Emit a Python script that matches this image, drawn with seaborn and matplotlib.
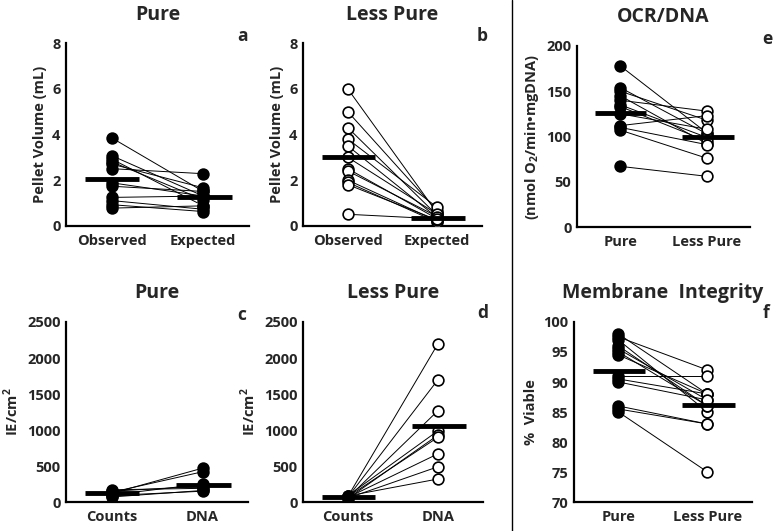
import numpy as np
import pandas as pd
import matplotlib
matplotlib.use("Agg")
import matplotlib.pyplot as plt
import seaborn as sns
from matplotlib.lines import Line2D

# Panel a - Pure pellet volume
a_cats = ["Observed", "Expected"]
a_left = [3.85, 3.07, 2.92, 2.8, 2.7, 2.5, 1.88, 1.73, 1.24, 1.1, 0.92, 0.77]
a_right = [1.5, 1.3, 0.87, 1.14, 1.66, 2.28, 1.3, 1.5, 1.3, 0.72, 0.62, 0.87]
a_mean = [2.03, 1.24]

# Panel b - Less pure pellet volume
b_cats = ["Observed", "Expected"]
b_left = [6.0, 5.0, 4.3, 3.8, 3.5, 3.0, 2.5, 2.4, 2.0, 1.9, 1.8, 0.5]
b_right = [0.55, 0.65, 0.45, 0.8, 0.35, 0.5, 0.3, 0.4, 0.2, 0.15, 0.25, 0.3]
b_mean = [3.0, 0.35]

# Panel c - Pure IE/cm2
c_cats = ["Counts", "DNA"]
c_left = [120, 135, 100, 150, 170, 90, 70]
c_right = [470, 420, 250, 220, 190, 150, 160]
c_mean = [130, 230]

# Panel d - Less pure IE/cm2
d_cats = ["Counts", "DNA"]
d_left = [80, 70, 60, 90, 50, 75, 65, 55, 85]
d_right = [2200, 1700, 1270, 990, 930, 900, 670, 490, 320]
d_mean = [70, 1060]

# Panel e - OCR/DNA
e_cats = ["Pure", "Less Pure"]
e_left = [178, 154, 150, 145, 140, 135, 133, 125, 112, 110, 107, 67]
e_right = [104, 103, 118, 92, 128, 99, 95, 108, 123, 91, 76, 56]
e_mean = [126, 99]

# Panel f - Membrane integrity
f_cats = ["Pure", "Less Pure"]
f_left = [98, 97.5, 97, 96, 95.5, 95, 94.5, 91, 90.5, 90, 86, 85.5, 85]
f_right = [88, 92, 85, 86, 87, 86, 88, 91, 88, 87, 83, 83, 75]
f_mean = [91.8, 86.1]

sns.set_style("white")
plt.rcParams['font.family'] = ['Open Sans', 'DejaVu Sans']
plt.rcParams['font.weight'] = 'bold'
plt.rcParams['mathtext.fontset'] = 'custom'
plt.rcParams['mathtext.rm'] = 'Open Sans:bold'
plt.rcParams['mathtext.bf'] = 'Open Sans:bold'

fig = plt.figure(figsize=(7.77, 5.31), dpi=100)


def panel(rect, cats, left, right, means, filled, ylim, yticks, ylabel, title,
          letter, lx, ly):
    ax = fig.add_axes(rect)
    n = len(left)
    df = pd.DataFrame({
        "id": list(range(n)) * 2,
        "pos": [0] * n + [1] * n,
        "value": list(left) + list(right),
    })
    sns.lineplot(data=df, x="pos", y="value", units="id", estimator=None,
                 color="black", lw=0.7, ax=ax, zorder=2)
    for i in range(2):
        sub = df[df["pos"] == i]
        sns.scatterplot(data=sub, x="pos", y="value", s=60,
                        facecolor="black" if filled[i] else "white",
                        edgecolor="black", linewidth=1.2, ax=ax, zorder=3)
    ax.hlines(means, [-0.29, 0.71], [0.3, 1.31], color="black", lw=3.5, zorder=4)
    ax.set_xlim(-0.5, 1.5)
    ax.set_ylim(*ylim)
    ax.set_yticks(yticks)
    ax.set_xticks([0, 1])
    ax.set_xticklabels(cats)
    ax.set_xlabel("")
    ax.set_ylabel(ylabel, fontsize=10.5, fontweight="bold", labelpad=4)
    ax.set_title(title, fontsize=14, fontweight="bold", pad=17)
    sns.despine(ax=ax)
    for s in ["left", "bottom"]:
        ax.spines[s].set_linewidth(1.6)
        ax.spines[s].set_color("black")
    ax.tick_params(axis="y", direction="in", length=5, width=1.6, labelsize=10.5, pad=4)
    ax.tick_params(axis="x", length=0, labelsize=10.5, pad=6)
    for t in ax.get_xticklabels() + ax.get_yticklabels():
        t.set_fontweight("bold")
    ax.text(lx, ly, letter, transform=ax.transAxes, fontsize=12.5,
            fontweight="bold", ha="center", va="center")
    return ax


panel([0.085, 0.575, 0.2355, 0.3435], a_cats, a_left, a_right, a_mean, (True, True),
      (0, 8), [0, 2, 4, 6, 8], "Pellet Volume (mL)", "Pure", "a", 0.967, 1.04)
panel([0.39, 0.575, 0.2304, 0.3435], b_cats, b_left, b_right, b_mean, (False, False),
      (0, 8), [0, 2, 4, 6, 8], "Pellet Volume (mL)", "Less Pure", "b", 1.0, 1.04)
panel([0.085, 0.0546, 0.2342, 0.339], c_cats, c_left, c_right, c_mean, (True, True),
      (0, 2500), [0, 500, 1000, 1500, 2000, 2500], r"IE/cm$^\mathbf{2}$", "Pure",
      "c", 0.967, 1.04)
panel([0.39, 0.0546, 0.2317, 0.339], d_cats, d_left, d_right, d_mean, (True, False),
      (0, 2500), [0, 500, 1000, 1500, 2000, 2500], r"IE/cm$^\mathbf{2}$", "Less Pure",
      "d", 1.0, 1.05)
panel([0.7426, 0.5725, 0.2227, 0.341], e_cats, e_left, e_right, e_mean, (True, False),
      (0, 200), [0, 50, 100, 150, 200], r"(nmol O$_\mathbf{2}$/min•mgDNA)", "OCR/DNA",
      "e", 1.1, 1.04)
panel([0.7387, 0.0546, 0.2291, 0.339], f_cats, f_left, f_right, f_mean, (True, False),
      (70, 100), [70, 75, 80, 85, 90, 95, 100], "%  Viable", "Membrane  Integrity",
      "f", 1.08, 1.05)

fig.add_artist(Line2D([512 / 777, 512 / 777], [0, 1], color="black", lw=1.0,
                      transform=fig.transFigure))

fig.savefig("out.png", dpi=100)
